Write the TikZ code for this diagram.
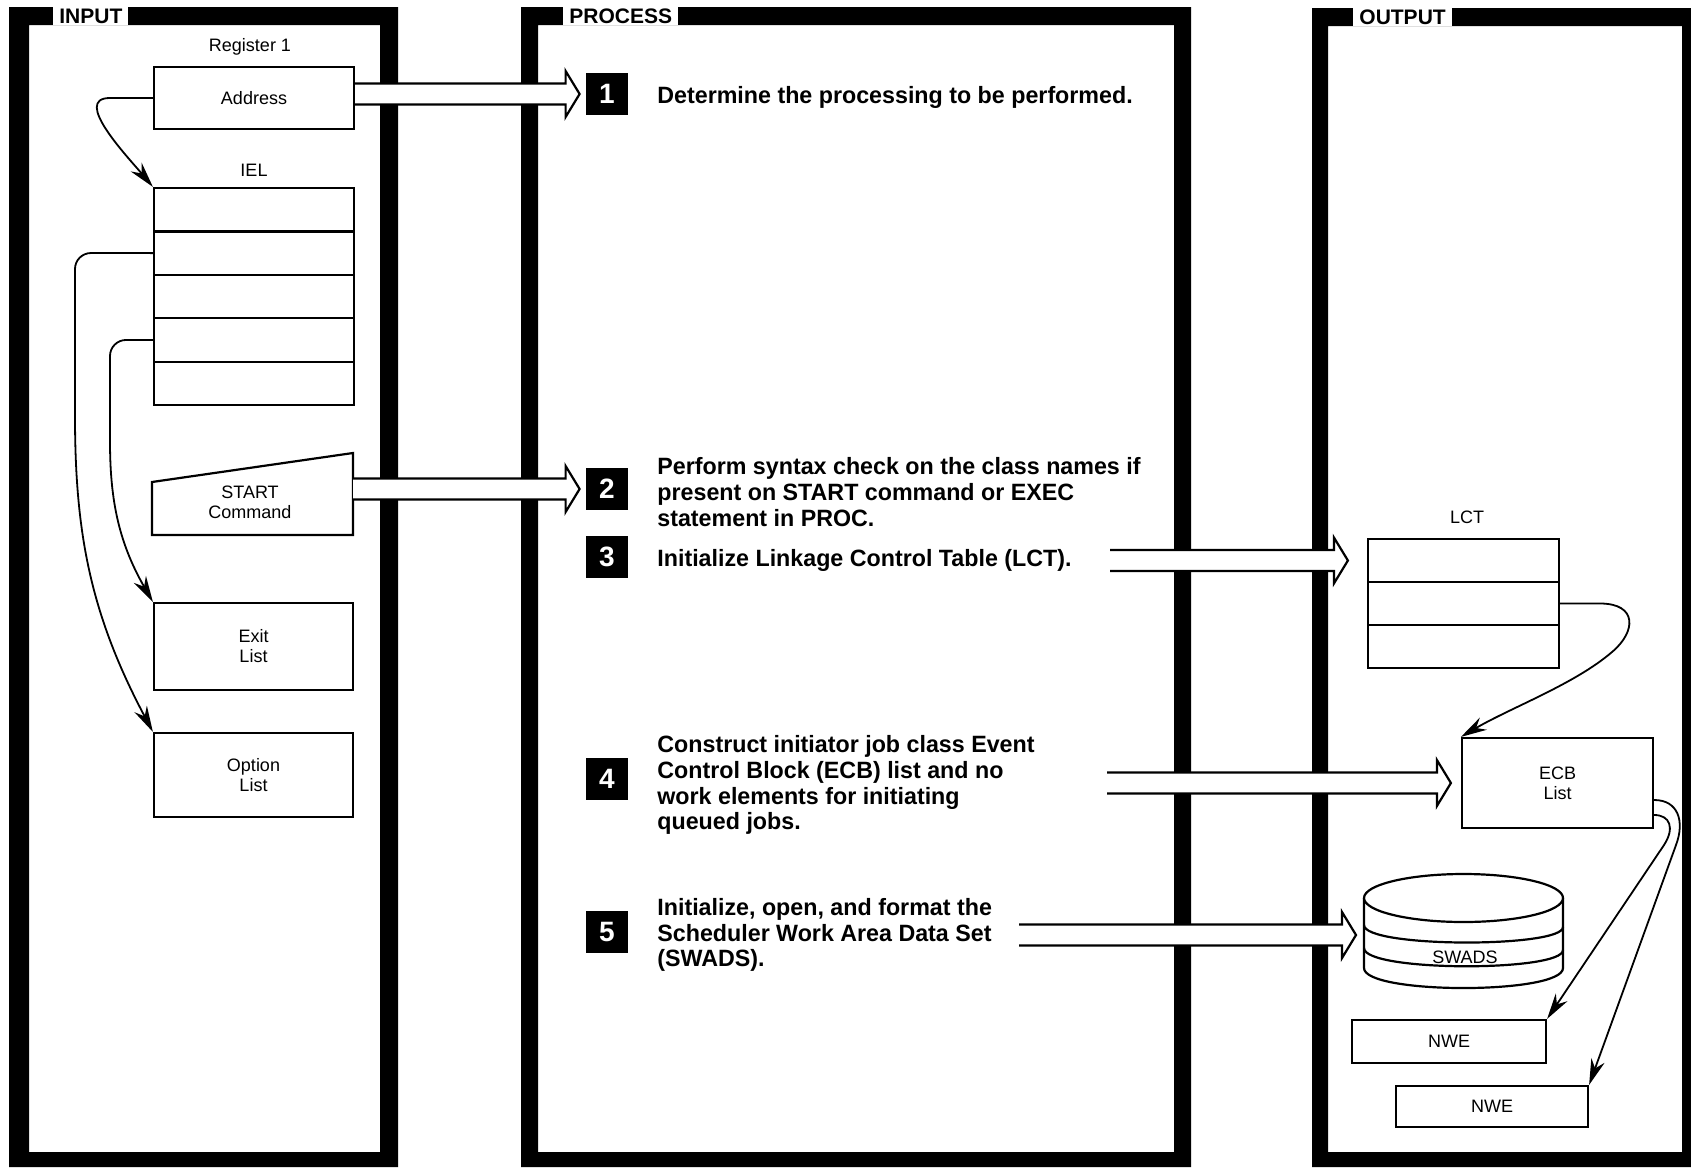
\documentclass[tikz,border=0pt]{standalone}
\usepackage{fontspec}
\setmainfont{Liberation Sans}
\newfontfamily\procfont[FakeStretch=0.985]{Liberation Sans}
\usetikzlibrary{arrows.meta,calc}

\newcommand\fatarrow[2]{%
  \draw[fat] let \p1=(#1), \p2=(#2) in
    (\x1,\y2+5.25pt) -- (\x2-7pt,\y2+5.25pt) -- (\x2-7pt,\y2+11.5pt) -- (\x2,\y2)
    -- (\x2-7pt,\y2-11.5pt) -- (\x2-7pt,\y2-5.25pt) -- (\x1,\y2-5.25pt);}

\begin{document}
\begin{tikzpicture}[x=0.5pt,y=-0.5pt,
  lbl/.style={font=\fontsize{9}{10}\selectfont, align=center, inner sep=0pt},
  box/.style={lbl, draw, line width=1.1pt, fill=white},
  flow/.style={line width=0.9pt, -{Stealth[length=13pt,width=7pt]}},
  fat/.style={line width=1.1pt, fill=white, line join=miter},
  num/.style={fill=black, text=white, minimum size=21pt, inner sep=0pt, font=\bfseries\fontsize{14}{14}\selectfont},
  proctext/.style={anchor=west, align=left, inner sep=0pt, font=\procfont\bfseries\fontsize{11.8}{12.9}\selectfont},
  tab/.style={anchor=west, fill=white, inner xsep=3pt, inner ysep=0pt, minimum height=9pt, font=\bfseries\fontsize{10.5}{12}\selectfont}]
\useasboundingbox (0,0) rectangle (1691,1167);

\fill[even odd rule] (9,7) rectangle (398,1167) (29,25) rectangle (380,1152);
\fill[even odd rule] (521,7) rectangle (1191,1167) (538,25) rectangle (1174,1152);
\fill[even odd rule] (1312,8) rectangle (1691,1167) (1328,26) rectangle (1682,1152);
\node[tab] (inp) at (53,16) {INPUT};
\node[tab] (proc) at (563,16) {PROCESS};
\node[tab] (outp) at (1353,17) {OUTPUT};

\node[lbl] (reg) at (250,47) {Register 1};
\node[box, minimum width=100pt, minimum height=31pt] (addr) at (254,98) {Address};
\node[lbl] (iellbl) at (254,170) {IEL};
\foreach \i in {1,...,5}
  \node[box, minimum width=100pt, minimum height=21.7pt] (iel\i) at (254,{188+43.4*(\i-0.5)}) {};
\draw[box] (152,482) -- (353,453) -- (353,535) -- (152,535) -- cycle;
\node[lbl] (start) at (250,502) {START\\Command};
\coordinate (startR) at (353,489);
\node[box, minimum width=99.5pt, minimum height=43.5pt] (exit) at (253.5,646.5) {Exit\\List};
\node[box, minimum width=99.5pt, minimum height=42pt] (opt) at (253.5,775) {Option\\List};

\draw[flow] (addr.west) -- (110,98) to[out=180,in=130] (iel1.north west);
\draw[flow, rounded corners=8pt] (iel2.west) -- (75,253) -- (75,400) to[out=-90,in=118] (opt.north west);
\draw[flow, rounded corners=8pt] (iel4.west) -- (110,340) -- (110,425) to[out=-90,in=120] (exit.north west);

\node[num] (n1) at (607,94) {1};
\node[num] (n2) at (607,489) {2};
\node[num] (n3) at (607,557) {3};
\node[num] (n4) at (607,779) {4};
\node[num] (n5) at (607,932) {5};
\node[proctext] (t1) at (657,97) {Determine the processing to be performed.};
\node[proctext] (t2) at (657,492) {Perform syntax check on the class names if\\present on START command or EXEC\\statement in PROC.};
\node[proctext] (t3) at (657,560) {Initialize Linkage Control Table (LCT).};
\node[proctext] (t4) at (657,785) {Construct initiator job class Event\\Control Block (ECB) list and no\\work elements for initiating\\queued jobs.};
\node[proctext] (t5) at (657,935) {Initialize, open, and format the\\Scheduler Work Area Data Set\\(SWADS).};

\node[lbl] (lctlbl) at (1467,517) {LCT};
\foreach \i in {1,2,3}
  \node[box, minimum width=95.5pt, minimum height=21.5pt] (lct\i) at (1463.5,{539+43*(\i-0.5)}) {};
\node[box, minimum width=95.5pt, minimum height=45pt] (ecb) at (1557.5,783) {ECB\\List};
\draw[box] (1364,898) -- (1364,968) .. controls (1364,994.7) and (1563,994.7) .. (1563,968) -- (1563,898);
\draw[box] (1463.5,898) ellipse [x radius=99.5, y radius=24];
\draw[line width=1.1pt] (1364,925) .. controls (1364,948) and (1563,948) .. (1563,927);
\draw[line width=1.1pt] (1364,948) .. controls (1364,972) and (1563,972) .. (1563,950);
\node[lbl] (swads) at (1465,957) {SWADS};
\coordinate (swadsW) at (1364,935);
\node[box, minimum width=97pt, minimum height=21.5pt] (nwe1) at (1449,1041.5) {NWE};
\node[box, minimum width=96pt, minimum height=20.5pt] (nwe2) at (1492,1106.5) {NWE};

\draw[flow] (lct2.east) -- (1600,603.5) .. controls (1638,603.5) and (1636,632) .. (1612,652)
  .. controls (1575,684) and (1510,708) .. (ecb.north west);
\draw[flow] ([yshift=-8.5pt]ecb.east) .. controls (1678,800) and (1685,821) .. (1676,845) -- (nwe2.north east);
\draw[flow] ([yshift=-16pt]ecb.east) .. controls (1670,815) and (1675,828) .. (1664,845) -- (nwe1.north east);

\coordinate (a3) at (1110,560);
\coordinate (a4) at (1107,781);
\coordinate (a5) at (1019,935);
\fatarrow{addr.east}{[xshift=-3pt]n1.west}
\fatarrow{startR}{[xshift=-3pt]n2.west}
\fatarrow{a3}{[xshift=-9.5pt]lct1.west}
\fatarrow{a4}{[xshift=-5pt]ecb.west}
\fatarrow{a5}{[xshift=-4pt]swadsW}
\end{tikzpicture}
\end{document}
